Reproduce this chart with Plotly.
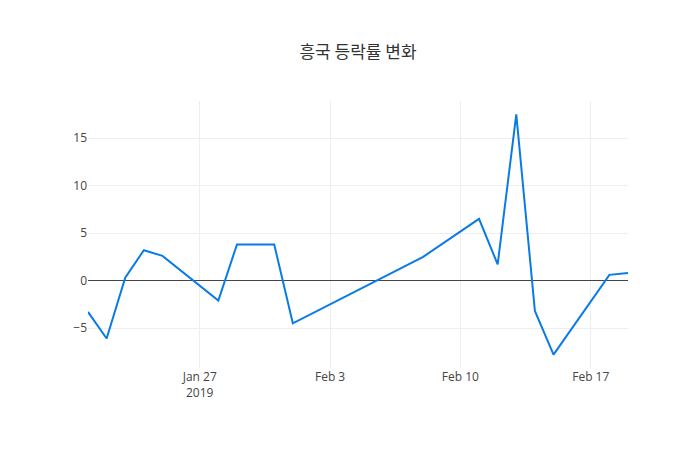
import plotly.graph_objects as go

dates = ["2019-01-21","2019-01-22","2019-01-23","2019-01-24","2019-01-25","2019-01-28","2019-01-29","2019-01-30","2019-01-31","2019-02-01",
         "2019-02-08","2019-02-11","2019-02-12","2019-02-13","2019-02-14","2019-02-15","2019-02-18","2019-02-19"]
values = [-3.3,-6.1,0.3,3.2,2.6,-2.1,3.8,3.8,3.8,-4.5,2.5,6.5,1.7,17.5,-3.2,-7.8,0.6,0.8]

fig = go.Figure(go.Scatter(x=dates, y=values, mode="lines", line=dict(color="#0a7be6", width=2)))
fig.update_layout(
    width=700, height=450,
    title=dict(text="흥국 등락률 변화", x=0.5, y=0.915, font=dict(family="Noto Sans CJK KR", size=17, color="#333")),
    font=dict(family="Open Sans", size=12, color="#444"),
    margin=dict(l=80, r=80, t=93, b=90),
    plot_bgcolor="white", paper_bgcolor="white",
    xaxis=dict(showgrid=True, gridcolor="#eee", zeroline=False, range=["2019-01-21","2019-02-19"]),
    yaxis=dict(showgrid=True, gridcolor="#eee", zeroline=True, zerolinecolor="#444", zerolinewidth=1),
)
fig.write_html("out.html")
